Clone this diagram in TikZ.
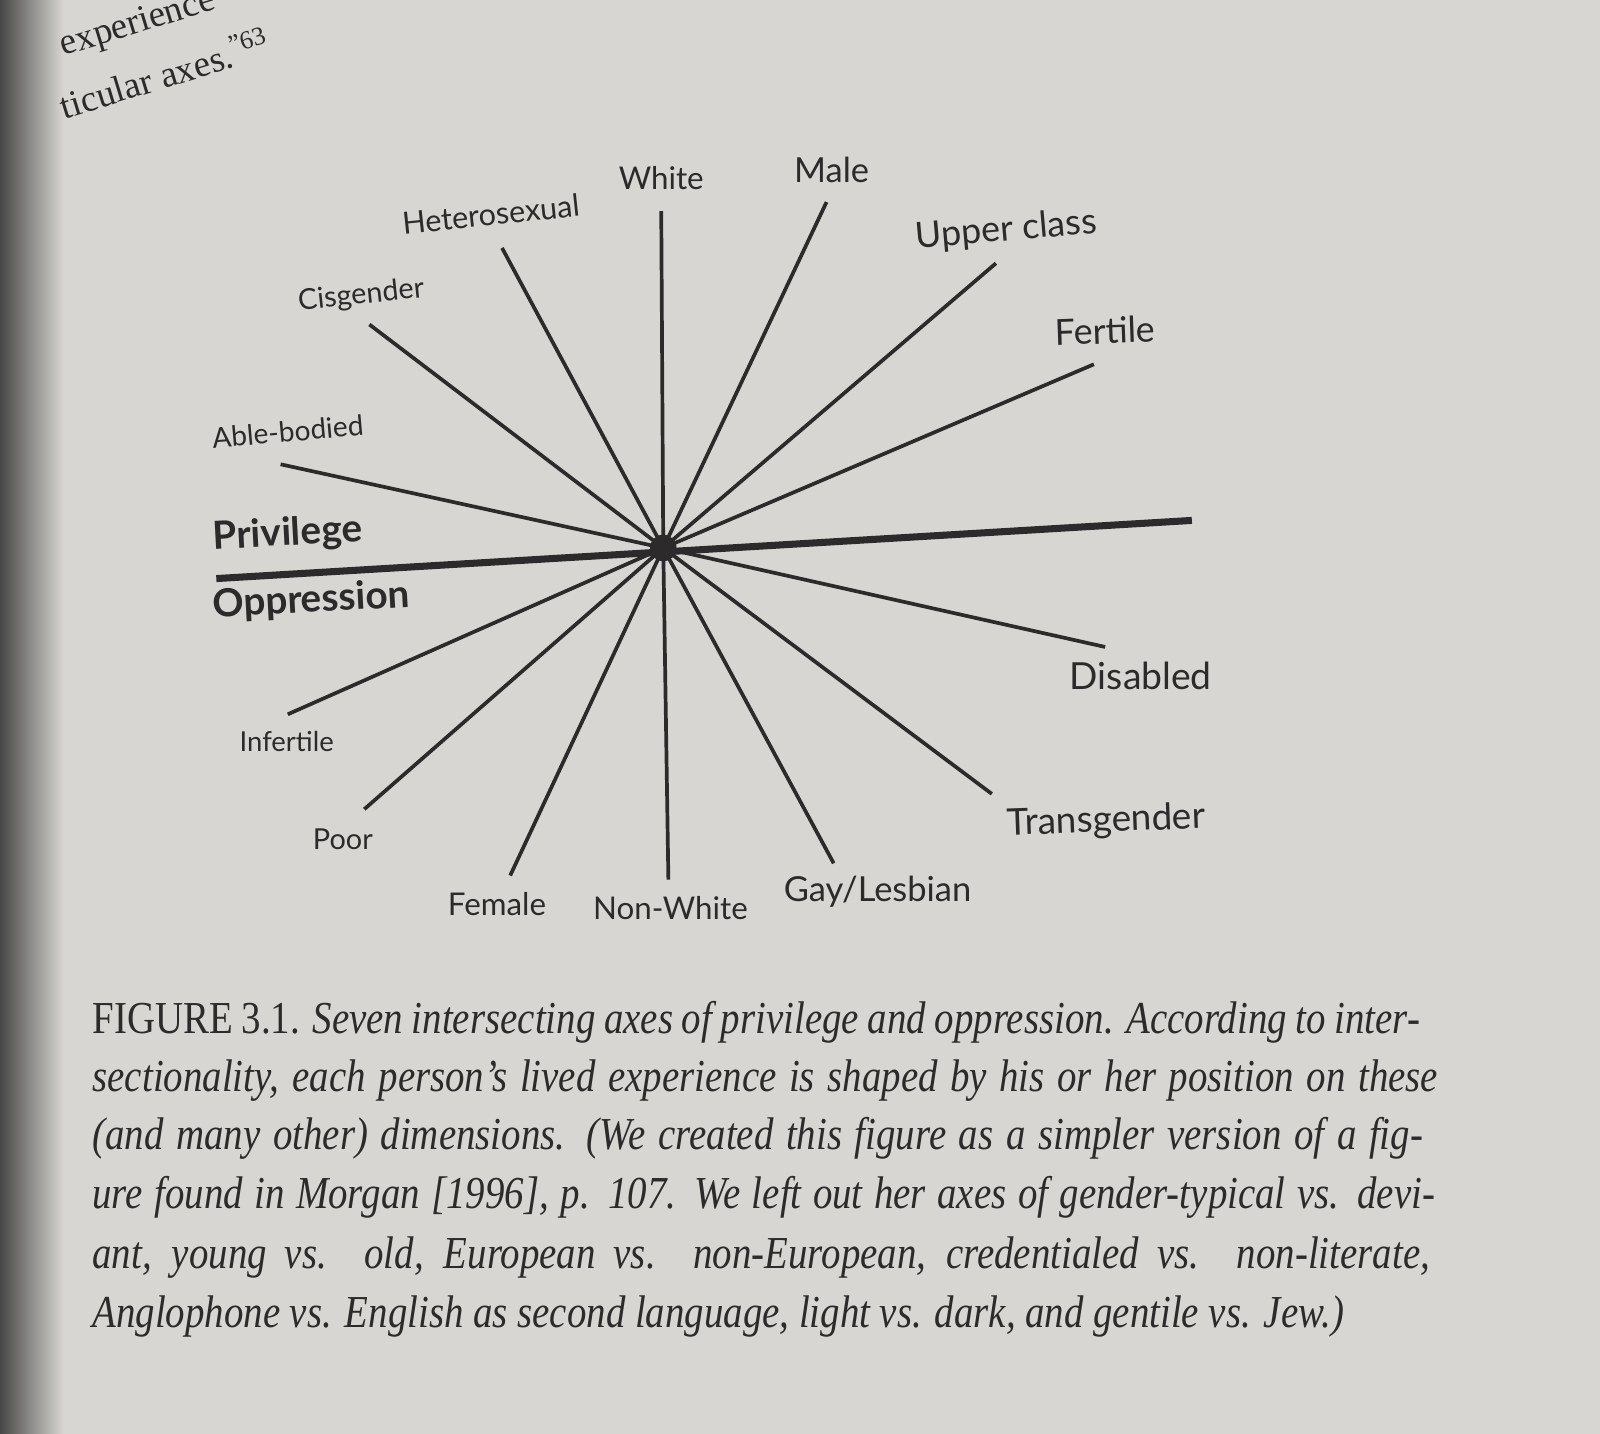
\documentclass[tikz,border=0pt]{standalone}
\usepackage{graphicx}
\usepackage{fontspec}
\setmainfont{Liberation Serif}
\newfontfamily\lblfont{Lato}
\usetikzlibrary{positioning}
\definecolor{page}{RGB}{215,214,210}
\definecolor{ink}{RGB}{44,42,42}
% one line of the caption, set to a given width
\newcommand{\capline}[2]{\scalebox{0.85}[1]{\makebox[\dimexpr #1*100/85\relax][s]{#2}}}

\begin{document}
\begin{tikzpicture}[x=0.0102cm, y=-0.0102cm,
    axisline/.style={draw=ink, line width=1.05pt},
    privline/.style={draw=ink, line width=2pt},
    lbl/.style={text=ink, font=\lblfont\fontsize{#1}{12}\selectfont, inner sep=1pt},
    lbl/.default=10.2,
    biglbl/.style={text=ink, font=\lblfont\bfseries\fontsize{11}{13}\selectfont, inner sep=1pt},
    pagetxt/.style={text=ink, rotate=17, anchor=base west, inner sep=0pt, font=\fontsize{10.5}{12}\selectfont},
    captxt/.style={text=ink, anchor=west, inner sep=0pt, font=\fontsize{13}{15}\selectfont}]
          \fill[page] (0,0) rectangle (1568,1405);
          \shade[left color=black!72, right color=page] (0,0) rectangle (62,1405);
          \useasboundingbox (0,0) rectangle (1568,1405);

          % text of the page above the figure
          \node[pagetxt] (prev1) at (62,55) {experience};
          \node[pagetxt] (prev2) at (63,117) {ticular axes.\textsuperscript{”63}};

          % centre
          \coordinate (c) at (650,537);

          % ends of the axes
          \coordinate (w1) at (648,207);  \coordinate (w2) at (655,862);
          \coordinate (m1) at (810,198);  \coordinate (m2) at (500,858);
          \coordinate (u1) at (976,258);  \coordinate (u2) at (357,793);
          \coordinate (f1) at (1072,357); \coordinate (f2) at (282,700);
          \coordinate (p1) at (212,567);  \coordinate (p2) at (1168,510);
          \coordinate (a1) at (275,455);  \coordinate (a2) at (1083,634);
          \coordinate (s1) at (362,318);  \coordinate (s2) at (972,778);
          \coordinate (h1) at (492,243);  \coordinate (h2) at (817,846);

          \draw[axisline] (c)--(w1);
          \draw[axisline] (c)--(w2);
          \draw[axisline] (c)--(m1);
          \draw[axisline] (c)--(m2);
          \draw[axisline] (c)--(u1);
          \draw[axisline] (c)--(u2);
          \draw[axisline] (c)--(f1);
          \draw[axisline] (c)--(f2);
          \draw[axisline] (c)--(a1);
          \draw[axisline] (c)--(a2);
          \draw[axisline] (c)--(s1);
          \draw[axisline] (c)--(s2);
          \draw[axisline] (c)--(h1);
          \draw[axisline] (c)--(h2);
          \draw[privline] (p1)--(p2);
          \fill[ink] (c) circle (13);

          % labels
          \node[lbl=8.9] (white) at (648,175) {White};
          \node[lbl=9.8] (male) at (815,167) {Male};
          \node[lbl=8.7, rotate=6] (hetero) at (481,210) {Heterosexual};
          \node[lbl, rotate=5] (upper) at (986,226) {Upper class};
          \node[lbl=8.2, rotate=6] (cis) at (354,290) {Cisgender};
          \node[lbl, rotate=2] (fertile) at (1083,324) {Fertile};
          \node[lbl=8, rotate=5] (able) at (282,423) {Able-bodied};
          \node[biglbl, rotate=3] (priv) at (282,524) {Privilege};
          \node[biglbl, rotate=3] (opp) at (305,589) {Oppression};
          \node[lbl=10.6] (disabled) at (1118,662) {Disabled};
          \node[lbl=7.8] (infertile) at (281,727) {Infertile};
          \node[lbl=10.5, rotate=2] (trans) at (1084,805) {Transgender};
          \node[lbl=8.2] (poor) at (336,822) {Poor};
          \node[lbl=8.9] (female) at (487,886) {Female};
          \node[lbl=8.9] (nonwhite) at (657,890) {Non-White};
          \node[lbl=9.8] (gay) at (860,874) {Gay/Lesbian};

          % caption
          \node[captxt] (cap1) at (90,1002) {\capline{13.26cm}{FIGURE 3.1. \itshape Seven intersecting axes of privilege and oppression. According to inter-}};
          \node[captxt] (cap2) at (90,1059) {\capline{13.44cm}{\itshape sectionality, each person’s lived experience is shaped by his or her position on these}};
          \node[captxt] (cap3) at (90,1116) {\capline{13.29cm}{\itshape (and many other) dimensions. (We created this figure as a simpler version of a fig-}};
          \node[captxt] (cap4) at (90,1173) {\capline{13.41cm}{\itshape ure found in Morgan [1996], p. 107. We left out her axes of gender-typical vs. devi-}};
          \node[captxt] (cap5) at (90,1232) {\capline{13.36cm}{\itshape ant, young vs. old, European vs. non-European, credentialed vs. non-literate,}};
          \node[captxt] (cap6) at (90,1290) {\capline{12.5cm}{\itshape Anglophone vs. English as second language, light vs. dark, and gentile vs. Jew.)}};
\end{tikzpicture}
\end{document}
